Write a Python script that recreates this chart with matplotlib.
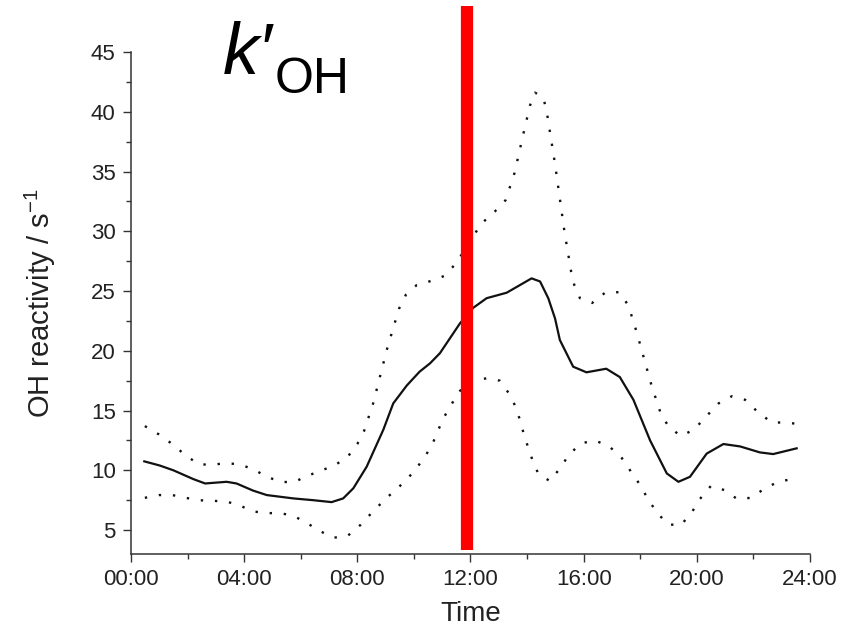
import numpy as np
import matplotlib
matplotlib.use('Agg')
import matplotlib.pyplot as plt
from matplotlib.ticker import MultipleLocator

plt.rcParams['font.family'] = ['Liberation Sans', 'DejaVu Sans']

# diurnal OH reactivity (hours since midnight, s^-1)
mean_t = [0.47, 1.02, 1.5, 2.2, 2.62, 3.38, 3.73, 4.32, 4.8, 5.74, 6.45, 7.09, 7.5, 7.86, 8.33,
          8.92, 9.27, 9.75, 10.2, 10.57, 10.92, 11.63, 12.1, 12.57, 13.28, 13.75, 14.16, 14.46,
          14.75, 14.99, 15.16, 15.63, 16.1, 16.8, 17.28, 17.76, 18.35, 18.94, 19.35, 19.76,
          20.35, 20.94, 21.53, 22.23, 22.7, 23.53]
mean_v = [10.75, 10.4, 10.0, 9.27, 8.9, 9.04, 8.9, 8.3, 7.93, 7.65, 7.5, 7.34, 7.65, 8.5, 10.3,
          13.4, 15.6, 17.1, 18.25, 18.95, 19.8, 22.3, 23.6, 24.4, 24.86, 25.5, 26.06, 25.8,
          24.4, 22.7, 20.9, 18.67, 18.2, 18.5, 17.8, 15.9, 12.5, 9.74, 9.04, 9.46,
          11.4, 12.2, 12.0, 11.5, 11.36, 11.84]

upper_t = [0.49, 0.99, 1.46, 1.93, 2.4, 2.87, 3.36, 3.83, 4.32, 4.77, 5.27, 5.74, 6.21, 6.68,
           7.15, 7.65, 8.0, 8.24, 8.56, 9.04, 9.47, 9.72, 10.1, 10.63, 11.06, 11.49, 12.07,
           12.4, 12.84, 13.24, 13.56, 13.88, 14.1, 14.28, 14.57, 14.69, 14.99, 15.32, 15.56,
           15.67, 15.87, 16.3, 16.78, 17.26, 17.58, 17.87, 18.13, 18.4, 18.72, 18.99, 19.43,
           19.9, 20.33, 20.77, 21.24, 21.71, 22.19, 22.66, 23.14, 23.5]
upper_v = [13.7, 13.0, 12.2, 11.25, 10.5, 10.47, 10.6, 10.5, 10.1, 9.5, 9.04, 9.0, 9.5, 9.96,
           10.35, 11.1, 12.2, 13.3, 15.6, 20.06, 23.5, 24.7, 25.5, 25.86, 26.25, 27.3, 29.5,
           30.67, 31.6, 32.6, 34.9, 38.25, 40.5, 41.6, 41.2, 40.1, 35.6, 30.0, 26.6,
           25.5, 24.4, 24.0, 24.9, 24.9, 23.8, 21.6, 19.4, 17.1, 14.8, 13.7, 12.87,
           13.4, 14.5, 15.6, 16.2, 15.9, 14.8, 14.0, 14.0, 13.9]

lower_t = [0.49, 0.99, 1.46, 1.93, 2.4, 2.87, 3.36, 3.83, 4.32, 4.8, 5.27, 5.74, 6.21, 6.68,
           7.15, 7.65, 8.12, 8.57, 9.04, 9.51, 9.98, 10.33, 10.63, 10.83, 11.04, 11.3, 11.6,
           12.1, 12.57, 13.04, 13.37, 13.6, 13.75, 13.89, 14.04, 14.2, 14.4, 14.81, 15.16,
           15.48, 15.9, 16.39, 16.88, 17.33, 17.67, 17.99, 18.26, 18.58, 18.98, 19.44, 19.82,
           20.11, 20.5, 20.97, 21.43, 21.92, 22.41, 22.88, 23.37]
lower_v = [7.7, 7.93, 7.93, 7.7, 7.5, 7.45, 7.4, 7.07, 6.56, 6.42, 6.42, 6.2, 5.6, 4.92,
           4.36, 4.5, 5.45, 6.6, 7.7, 8.7, 9.83, 10.94, 12.05, 13.2, 14.35, 15.4, 16.6,
           17.5, 17.7, 17.5, 16.4, 15.3, 14.2, 13.0, 11.9, 10.8, 9.7, 9.1, 10.16,
           11.3, 12.25, 12.5, 12.05, 11.1, 9.9, 8.8, 7.65, 6.5, 5.47, 5.42, 6.47,
           7.6, 8.7, 8.35, 7.6, 7.7, 8.5, 9.04, 9.27]

noon_marker = 11.86
marker_span = (3.33, 48.85)

x_ticks = [0, 4, 8, 12, 16, 20, 24]
x_ticklabels = ['00:00', '04:00', '08:00', '12:00', '16:00', '20:00', '24:00']
y_ticks = [5, 10, 15, 20, 25, 30, 35, 40, 45]

fig = plt.figure(figsize=(8.49, 6.33), dpi=100)
ax = fig.add_axes([0.1543, 0.1248, 0.7997, 0.7931])

ax.plot(mean_t, mean_v, color='#111111', lw=1.6, solid_joinstyle='round')
ax.plot(upper_t, upper_v, color='#111111', lw=1.7, linestyle=(0, (1, 5)))
ax.plot(lower_t, lower_v, color='#111111', lw=1.7, linestyle=(0, (1, 5)))
ax.plot([noon_marker, noon_marker], marker_span, color='#ff0000', lw=8.8,
        solid_capstyle='butt', clip_on=False, zorder=5)

ax.set_xlim(0, 24)
ax.set_ylim(3, 45)
ax.set_xticks(x_ticks)
ax.set_xticklabels(x_ticklabels)
ax.set_yticks(y_ticks)
ax.xaxis.set_minor_locator(MultipleLocator(2))
ax.yaxis.set_minor_locator(MultipleLocator(2.5))

for side in ['top', 'right']:
    ax.spines[side].set_visible(False)
for side in ['left', 'bottom']:
    ax.spines[side].set_color('#333333')
    ax.spines[side].set_linewidth(1.1)

ax.tick_params(which='major', direction='out', length=6, width=1.0, color='#333333',
               labelsize=16, labelcolor='#222222', pad=5)
ax.tick_params(which='minor', direction='out', length=3.5, width=1.0, color='#333333')

ax.set_xlabel('Time', fontsize=20, color='#222222', labelpad=8)
ax.set_ylabel('OH reactivity / s$^{\\mathregular{-1}}$', fontsize=21, color='#222222',
              labelpad=24)

fig.text(223 / 849, 1 - 74 / 633, 'k\u2032', fontsize=52, style='italic', color='black',
         ha='left', va='baseline')
fig.text(275 / 849, 1 - 93 / 633, 'OH', fontsize=36, color='black',
         ha='left', va='baseline')

fig.savefig('out.png', dpi=100)
